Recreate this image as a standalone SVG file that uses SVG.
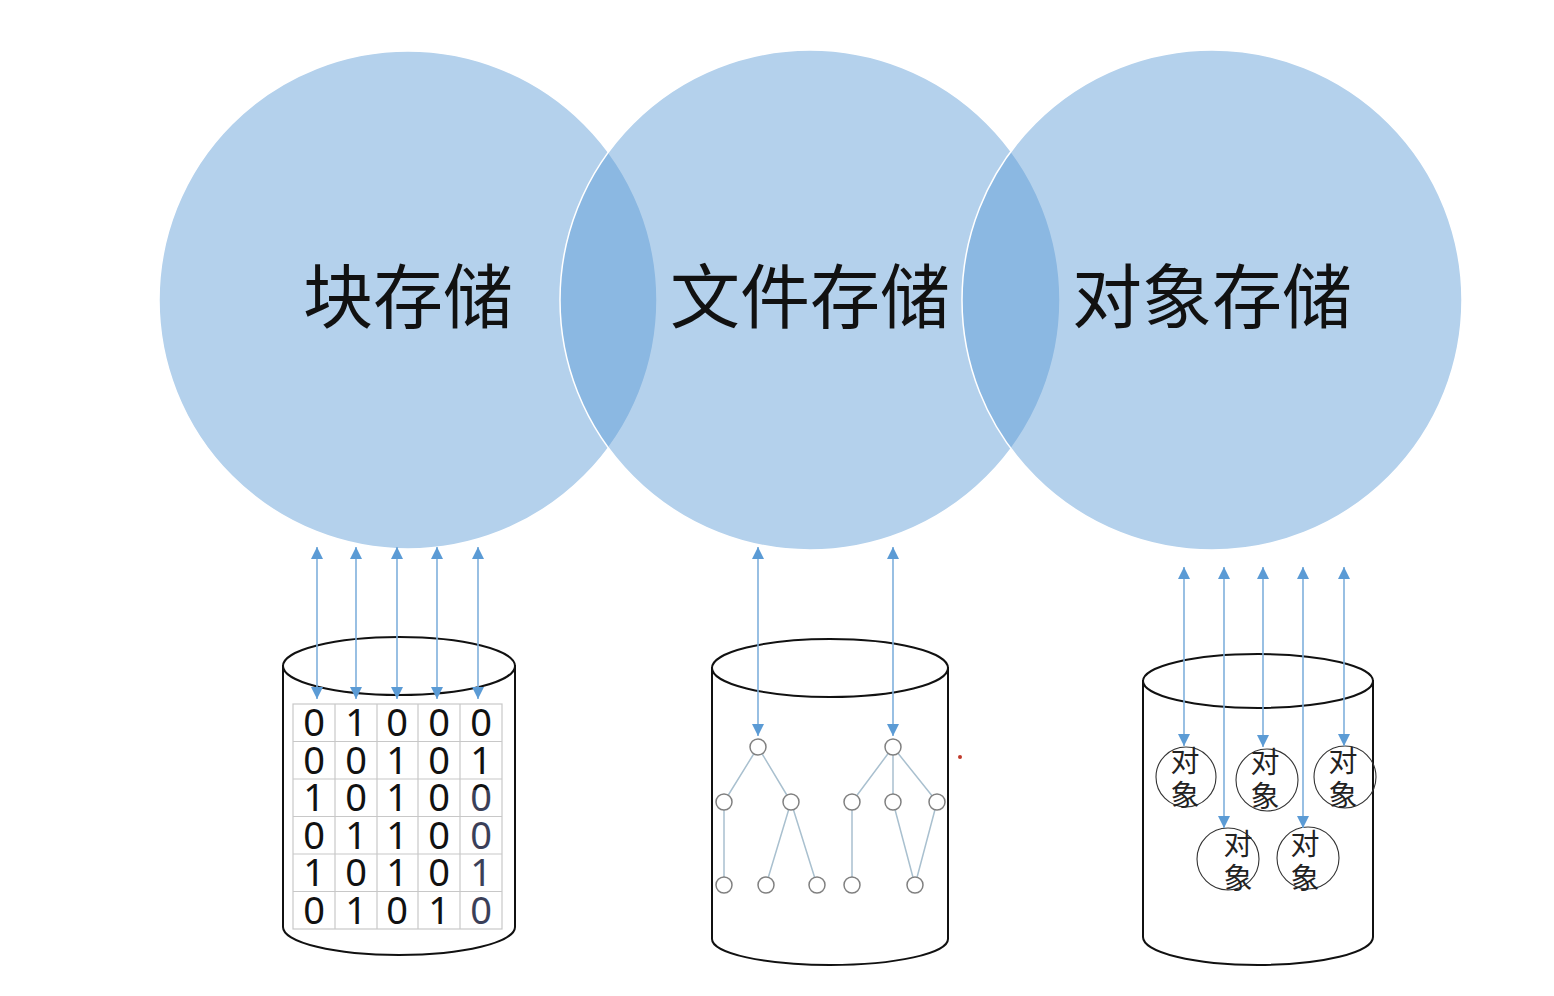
<svg xmlns="http://www.w3.org/2000/svg" width="1554" height="996" viewBox="0 0 1554 996">
<defs>
<marker id="ah" viewBox="0 0 12 12" refX="12" refY="6" markerWidth="12" markerHeight="12" markerUnits="userSpaceOnUse" orient="auto-start-reverse">
<path d="M0,0 L12,6 L0,12 z" fill="#5b9bd5"/>
</marker>
<linearGradient id="lastcol" gradientUnits="userSpaceOnUse" x1="0" y1="700" x2="0" y2="930">
<stop offset="0.39" stop-color="#111"/>
<stop offset="0.39" stop-color="#3b3f58"/>
</linearGradient>
<style>
.venn{fill:#5b9bd5;fill-opacity:0.46;stroke:#ffffff;stroke-width:1.5}
.big{font-family:"Noto Sans CJK SC","Noto Sans",sans-serif;font-size:70px;fill:#111;text-anchor:middle}
.cyl{fill:#fff;stroke:#111;stroke-width:2}
.grid{fill:none;stroke:#c8c8c8;stroke-width:1.2}
.bit{font-family:"Noto Sans","Liberation Sans",sans-serif;font-size:38px;fill:#111;text-anchor:middle}
.conn{stroke:#7fb0dc;stroke-width:1.6;fill:none;marker-start:url(#ah);marker-end:url(#ah)}
.edge{stroke:#a9c0cf;stroke-width:1.5;fill:none}
.tn{fill:#fff;stroke:#808080;stroke-width:1.5}
.obj{fill:none;stroke:#333;stroke-width:1.1}
.ot{font-family:"Noto Sans CJK SC",sans-serif;font-size:29px;fill:#222;text-anchor:middle}
</style>
</defs>
<rect width="1554" height="996" fill="#fff"/>

<g id="circle-block">
<circle class="venn" cx="408" cy="300" r="249"/>
</g>
<g id="circle-file">
<circle class="venn" cx="810" cy="300" r="250"/>
</g>
<g id="circle-object">
<circle class="venn" cx="1212" cy="300" r="250"/>
</g>
<g id="labels">
<text class="big" x="408" y="323">块存储</text>
<text class="big" x="810" y="323">文件存储</text>
<text class="big" x="1212" y="323">对象存储</text>
</g>

<g id="cyl-block">
<path class="cyl" d="M283,666 L283,927 A116,28 0 0 0 515,927 L515,666 Z"/>
<ellipse class="cyl" cx="399" cy="666" rx="116" ry="29"/>
<g class="grid">
<rect x="293" y="704" width="209" height="225"/>
<path d="M335,704V929M377,704V929M418,704V929M460,704V929M293,741.5H502M293,779H502M293,816.5H502M293,854H502M293,891.5H502"/>
</g>
<text class="bit" x="314 314 314 314 314 314" y="736 773.5 811 848.5 886 923.5">001010</text>
<text class="bit" x="356 356 356 356 356 356" y="736 773.5 811 848.5 886 923.5">100101</text>
<text class="bit" x="397 397 397 397 397 397" y="736 773.5 811 848.5 886 923.5">011110</text>
<text class="bit" x="439 439 439 439 439 439" y="736 773.5 811 848.5 886 923.5">000001</text>
<text class="bit" style="fill:url(#lastcol)" x="481 481 481 481 481 481" y="736 773.5 811 848.5 886 923.5">010010</text>
</g>

<g id="cyl-file">
<path class="cyl" d="M712,668 L712,939 A118,26 0 0 0 948,939 L948,668 Z"/>
<ellipse class="cyl" cx="830" cy="668" rx="118" ry="29"/>
<g class="edge">
<path d="M758,747L724,802M758,747L791,802M724,802L724,885M791,802L766,885M791,802L817,885"/>
<path d="M893,747L852,802M893,747L893,802M893,747L937,802M852,802L852,885M893,802L915,885M937,802L915,885"/>
</g>
<g>
<circle class="tn" cx="758" cy="747" r="8"/>
<circle class="tn" cx="724" cy="802" r="8"/>
<circle class="tn" cx="791" cy="802" r="8"/>
<circle class="tn" cx="724" cy="885" r="8"/>
<circle class="tn" cx="766" cy="885" r="8"/>
<circle class="tn" cx="817" cy="885" r="8"/>
<circle class="tn" cx="893" cy="747" r="8"/>
<circle class="tn" cx="852" cy="802" r="8"/>
<circle class="tn" cx="893" cy="802" r="8"/>
<circle class="tn" cx="937" cy="802" r="8"/>
<circle class="tn" cx="852" cy="885" r="8"/>
<circle class="tn" cx="915" cy="885" r="8"/>
</g>
</g>

<g id="cyl-object">
<path class="cyl" d="M1143,681 L1143,937 A115,28 0 0 0 1373,937 L1373,681 Z"/>
<ellipse class="cyl" cx="1258" cy="681" rx="115" ry="27"/>
<circle class="obj" cx="1186" cy="777" r="30"/>
<circle class="obj" cx="1267" cy="780" r="31"/>
<circle class="obj" cx="1345" cy="777" r="31"/>
<circle class="obj" cx="1228" cy="859" r="31"/>
<circle class="obj" cx="1308" cy="858" r="31"/>
<text class="ot" x="1185 1185" y="772 806">对象</text>
<text class="ot" x="1265 1265" y="773 807">对象</text>
<text class="ot" x="1343 1343" y="772 806">对象</text>
<text class="ot" x="1238 1238" y="855 889">对象</text>
<text class="ot" x="1305 1305" y="855 889">对象</text>
</g>

<g id="connectors">
<line class="conn" x1="317" y1="547" x2="317" y2="699"/>
<line class="conn" x1="356" y1="547" x2="356" y2="699"/>
<line class="conn" x1="397" y1="547" x2="397" y2="699"/>
<line class="conn" x1="437" y1="547" x2="437" y2="699"/>
<line class="conn" x1="478" y1="547" x2="478" y2="699"/>
<line class="conn" x1="758" y1="547" x2="758" y2="736"/>
<line class="conn" x1="893" y1="547" x2="893" y2="736"/>
<line class="conn" x1="1184" y1="567" x2="1184" y2="746"/>
<line class="conn" x1="1224" y1="567" x2="1224" y2="828"/>
<line class="conn" x1="1263" y1="567" x2="1263" y2="747"/>
<line class="conn" x1="1303" y1="567" x2="1303" y2="828"/>
<line class="conn" x1="1344" y1="567" x2="1344" y2="746"/>
</g>

<circle cx="960" cy="757" r="2" fill="#c0392b"/>
</svg>
